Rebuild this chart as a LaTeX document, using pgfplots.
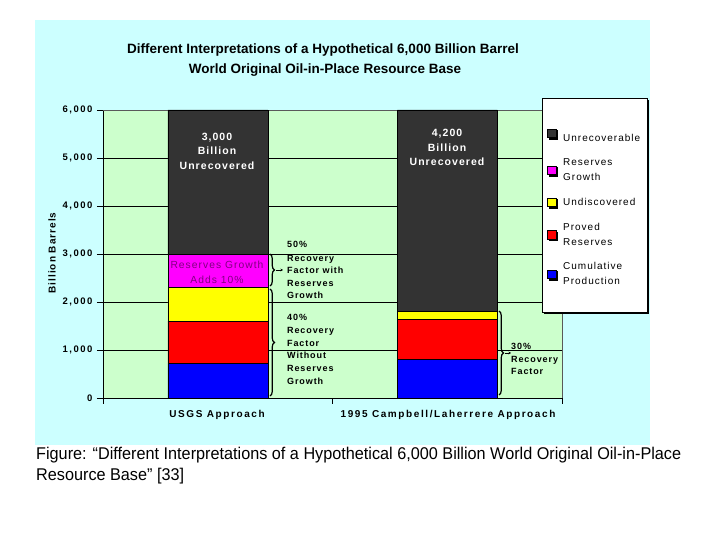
\documentclass[border=0pt]{standalone}
\usepackage{fontspec}
\setmainfont{Liberation Sans}
\newfontfamily\chartfont[LetterSpace=10]{Liberation Sans}
\newfontfamily\widefont[LetterSpace=16]{Liberation Sans}
\usepackage{graphicx}
\usepackage{pgfplots}
\pgfplotsset{compat=1.18}
\usetikzlibrary{decorations.pathreplacing,arrows.meta,shadows}

\definecolor{panelcyan}{HTML}{CCFFFF}
\definecolor{plotgreen}{HTML}{CCFFCC}
\definecolor{unrec}{HTML}{333333}
\definecolor{rgrowth}{HTML}{FF00FF}
\definecolor{undisc}{HTML}{FFFF00}
\definecolor{proved}{HTML}{FF0000}
\definecolor{cumprod}{HTML}{0000FF}
\definecolor{rgtext}{HTML}{800080}

\begin{document}
\begin{tikzpicture}[x=1pt,y=1pt]
\useasboundingbox (0,0) rectangle (720,540);
\fill[white] (0,0) rectangle (720,540);
\fill[panelcyan] (35,95) rectangle (650,520);

\begin{axis}[
  at={(103pt,142pt)}, anchor=south west,
  width=459pt, height=288pt, scale only axis,
  ybar stacked, bar width=100pt,
  xmin=-0.5, xmax=1.5, ymin=0, ymax=6000,
  xtick={-0.5,0.5,1.5}, xticklabels={},
  ytick={0,1000,...,6000},
  ymajorgrids, grid style={black, line width=0.6pt},
  axis x line*=bottom, axis y line*=left,
  axis line style={black, line width=0.6pt},
  tick style={black, line width=0.6pt},
  major tick length=6pt, tick align=outside,
  axis background/.style={fill=plotgreen},
  /pgf/number format/assume math mode=true,
  yticklabel style={font=\widefont\fontsize{9.5}{11}\selectfont\bfseries, xshift=-1pt},
  clip=false,
  reverse legend,
  legend style={draw=black, fill=white, line width=0.6pt,
    inner xsep=5pt, inner ysep=24pt,
    drop shadow={shadow xshift=1.5pt, shadow yshift=-1.5pt, fill=black, opacity=1},
    at={(axis description cs:0.9564,1.0417)}, anchor=north west,
    font=\chartfont\fontsize{10}{15}\selectfont,
    cells={anchor=west, align=left}, row sep=12pt,
    /tikz/every odd column/.append style={column sep=5pt}},
  legend image code/.code={\draw[#1,draw=black,line width=0.4pt] (0pt,-4pt) rectangle (8.5pt,4.5pt);},
]
\addplot[fill=cumprod, draw=black, line width=0.4pt] coordinates {(0,720) (1,805)};
\addlegendentry{Cumulative\\Production}
\addplot[fill=proved, draw=black, line width=0.4pt] coordinates {(0,880) (1,830)};
\addlegendentry{Proved\\Reserves}
\addplot[fill=undisc, draw=black, line width=0.4pt] coordinates {(0,710) (1,165)};
\addlegendentry{Undiscovered}
\addplot[fill=rgrowth, draw=black, line width=0.4pt] coordinates {(0,690) (1,0)};
\addlegendentry{Reserves\\Growth}
\addplot[fill=unrec, draw=black, line width=0.4pt] coordinates {(0,3000) (1,4200)};
\addlegendentry{\rule{0pt}{17pt}Unrecoverable}

% plot area border (top and right)
\draw[gray!70!black, line width=0.6pt] (rel axis cs:0,1) -- (rel axis cs:1,1) -- (rel axis cs:1,0);
\end{axis}

% title
\node[font=\bfseries\fontsize{13.5}{16}\selectfont] at (323,490) {Different Interpretations of a Hypothetical 6,000 Billion Barrel};
\node[font=\bfseries\fontsize{13.5}{16}\selectfont] at (325,470) {World Original Oil-in-Place Resource Base};

% y label
\node[rotate=90, font=\chartfont\bfseries\fontsize{10}{12}\selectfont] at (52,287) {Billion Barrels};

% category labels
\node[font=\widefont\bfseries\fontsize{10}{12}\selectfont] at (217,125) {USGS Approach};
\node[font=\widefont\bfseries\fontsize{10}{12}\selectfont] at (448,125) {1995 Campbell/Laherrere Approach};

% texts inside bars
\tikzset{inbar/.style={font=\chartfont\bfseries\fontsize{10.5}{12}\selectfont, text=white, text height=7pt, text depth=1.5pt, inner sep=0pt}}
\node[inbar] at (217,402) {3,000};
\node[inbar] at (217,388) {Billion};
\node[inbar] at (217,373) {Unrecovered};
\node[inbar] at (447,406) {4,200};
\node[inbar] at (447,391) {Billion};
\node[inbar] at (447,377) {Unrecovered};

\tikzset{rg/.style={font=\chartfont\fontsize{10.3}{12}\selectfont, text=rgtext, text height=7pt, text depth=1.5pt, inner sep=0pt}}
\node[rg] at (217,274) {Reserves Growth};
\node[rg] at (217,259) {Adds 10\%};

% braces
\draw[black, line width=1.2pt, decorate, decoration={brace, amplitude=4.5pt}] (270,286) -- (270,254);
\draw[black, line width=0.6pt, -{Stealth[length=2.5pt,width=2.5pt]}] (276,270) -- (283,270);
\draw[black, line width=1.2pt, decorate, decoration={brace, amplitude=4.5pt}] (270,251) -- (270,144);
\draw[black, line width=1.2pt, decorate, decoration={brace, amplitude=4.5pt}] (499,229) -- (499,145);
\draw[black, line width=0.6pt, -{Stealth[length=2.5pt,width=2.5pt]}] (505,187) -- (511,187);

% side annotations
\tikzset{ann/.style={font=\chartfont\bfseries\fontsize{9}{11}\selectfont, text height=6.5pt, text depth=1.5pt, inner sep=0pt, anchor=west}}
\node[ann] at (287,295) {50\%};
\node[ann] at (287,281) {Recovery};
\node[ann] at (287,269) {Factor with};
\node[ann] at (287,256) {Reserves};
\node[ann] at (287,244) {Growth};
\node[ann] at (287,222) {40\%};
\node[ann] at (287,209) {Recovery};
\node[ann] at (287,196) {Factor};
\node[ann] at (287,184) {Without};
\node[ann] at (287,171) {Reserves};
\node[ann] at (287,158) {Growth};
\node[ann] at (511,193) {30\%};
\node[ann] at (511,180) {Recovery};
\node[ann] at (511,168) {Factor};

% caption
\node[anchor=base west, inner sep=0pt] at (36,80) {\resizebox{645pt}{\height}{\fontsize{17}{21}\selectfont\begin{tabular}[t]{@{}l@{}}Figure: “Different Interpretations of a Hypothetical 6,000 Billion World Original Oil-in-Place\\Resource Base” [33]\end{tabular}}};
\end{tikzpicture}
\end{document}
